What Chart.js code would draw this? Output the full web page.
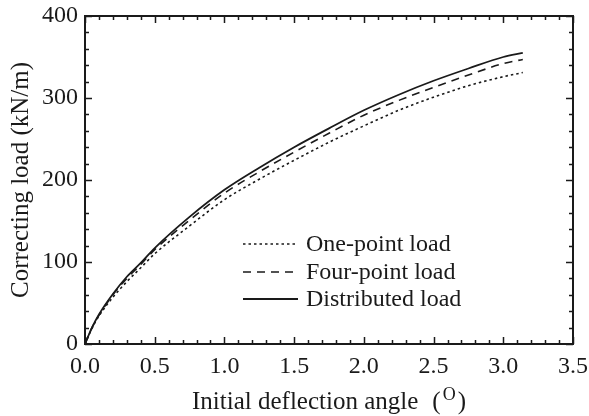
<!DOCTYPE html>
<html>
<head>
<meta charset="utf-8">
<script src="https://cdn.jsdelivr.net/npm/chart.js@4.4.1/dist/chart.umd.min.js"></script>
<style>
  html, body { margin: 0; padding: 0; background: #fff; }
  #wrap { width: 589px; height: 416px; }
</style>
</head>
<body>
<div id="wrap"><canvas id="myChart"></canvas></div>
<script>
const ctx = document.getElementById('myChart');

// deflection angle (deg)
const angles = [0, 0.05, 0.1, 0.2, 0.3, 0.4, 0.5, 0.75, 1.0, 1.25, 1.5, 1.75, 2.0, 2.25, 2.5, 2.75, 3.0, 3.14];
// correcting load (kN/m)
const onePoint    = [0, 19, 34, 57, 76, 93, 110, 144, 176, 201, 224, 246, 266, 285, 301, 315, 326, 331];
const fourPoint   = [0, 20, 35, 60, 80, 97, 115, 151, 184, 210, 234, 257, 279, 297, 313, 328, 342, 347];
const distributed = [0, 20, 36, 61, 82, 99, 117, 155, 188, 215, 240, 263, 285, 304, 321, 336, 350, 355];
const seriesNames = ['One-point load', 'Four-point load', 'Distributed load'];
const xTicks = [0, 0.5, 1.0, 1.5, 2.0, 2.5, 3.0, 3.5];
const yTicks = [0, 100, 200, 300, 400];

const serif = "'Liberation Serif', 'Times New Roman', serif";
const ink = '#1a1a1a';

function pts(ys) {
  return angles.map((a, i) => ({x: a, y: ys[i]}));
}

// frame + inward ticks on all four sides, x title and legend
const frameTicks = {
  id: 'frameTicks',
  afterDatasetsDraw(chart) {
    const {ctx, chartArea: a, scales: {x, y}} = chart;
    ctx.save();
    ctx.strokeStyle = ink;
    ctx.lineWidth = 1.5;
    for (let i = 0; i <= 35; i++) {
      const px = Math.round(x.getPixelForValue(i / 10)) + 0.5;
      const len = i % 5 === 0 ? 7 : 4;
      ctx.beginPath();
      ctx.moveTo(px, a.bottom); ctx.lineTo(px, a.bottom - len);
      ctx.moveTo(px, a.top); ctx.lineTo(px, a.top + len);
      ctx.stroke();
    }
    for (let v = 0; v <= 400; v += 20) {
      const py = Math.round(y.getPixelForValue(v)) + 0.5;
      const len = v % 100 === 0 ? 7 : 4;
      ctx.beginPath();
      ctx.moveTo(a.left, py); ctx.lineTo(a.left + len, py);
      ctx.moveTo(a.right, py); ctx.lineTo(a.right - len, py);
      ctx.stroke();
    }
    ctx.lineWidth = 2;
    ctx.strokeRect(a.left, a.top, a.right - a.left, a.bottom - a.top);

    // x axis title with raised degree mark
    ctx.fillStyle = ink;
    ctx.textBaseline = 'alphabetic';
    const main = 'Initial deflection angle';
    const base = 409;
    ctx.font = '25px ' + serif;
    const w1 = ctx.measureText(main).width;
    const wp = ctx.measureText('(').width;
    ctx.font = '18px ' + serif;
    const wo = ctx.measureText('O').width;
    const gap = 14;
    const total = w1 + gap + wp * 2 + wo + 4;
    let tx = (a.left + a.right) / 2 - total / 2;
    ctx.font = '25px ' + serif;
    ctx.fillText(main, tx, base); tx += w1 + gap;
    ctx.fillText('(', tx, base); tx += wp + 2;
    ctx.font = '18px ' + serif;
    ctx.fillText('O', tx, base - 9); tx += wo + 2;
    ctx.font = '25px ' + serif;
    ctx.fillText(')', tx, base);

    // legend inside the plot
    const rows = [244, 272, 299];
    ctx.font = '24px ' + serif;
    ctx.textBaseline = 'middle';
    chart.data.datasets.forEach((ds, i) => {
      ctx.setLineDash(ds.borderDash || []);
      ctx.lineWidth = ds.borderWidth;
      ctx.strokeStyle = ds.borderColor;
      ctx.beginPath();
      ctx.moveTo(243, rows[i]); ctx.lineTo(298, rows[i]);
      ctx.stroke();
      ctx.setLineDash([]);
      ctx.fillText(ds.label, 306, rows[i] + 1);
    });
    ctx.restore();
  }
};

const data = {
  datasets: [
    {label: seriesNames[0], data: pts(onePoint), borderColor: ink, borderWidth: 1.6, borderDash: [2.5, 3]},
    {label: seriesNames[1], data: pts(fourPoint), borderColor: ink, borderWidth: 1.6, borderDash: [8, 6]},
    {label: seriesNames[2], data: pts(distributed), borderColor: ink, borderWidth: 1.8}
  ]
};

const config = {
  type: 'line',
  data: data,
  options: {
    responsive: true,
    maintainAspectRatio: false,
    animation: false,
    layout: {padding: {top: 16, right: 16, left: 0, bottom: 0}},
    elements: {point: {radius: 0}, line: {tension: 0.4, cubicInterpolationMode: 'monotone'}},
    plugins: {legend: {display: false}, tooltip: {enabled: false}},
    scales: {
      x: {
        type: 'linear', min: 0, max: 3.5,
        afterFit: s => { s.height = 72; s.paddingLeft = 0; s.paddingRight = 0; },
        afterBuildTicks: s => { s.ticks = xTicks.map(v => ({value: v})); },
        grid: {display: false, drawTicks: false},
        border: {display: false},
        ticks: {padding: 8, color: ink, font: {family: serif, size: 24}, callback: v => v.toFixed(1), maxRotation: 0}
      },
      y: {
        min: 0, max: 400,
        afterFit: s => { s.width = 85; s.paddingTop = 0; s.paddingBottom = 0; },
        afterBuildTicks: s => { s.ticks = yTicks.map(v => ({value: v})); },
        grid: {display: false, drawTicks: false},
        border: {display: false},
        ticks: {padding: 7, color: ink, font: {family: serif, size: 24}},
        title: {display: true, text: 'Correcting load (kN/m)', color: ink, font: {family: serif, size: 25}, padding: {top: 6, bottom: 0}}
      }
    }
  },
  plugins: [frameTicks]
};

const myChart = new Chart(ctx, config);
</script>
</body>
</html>
